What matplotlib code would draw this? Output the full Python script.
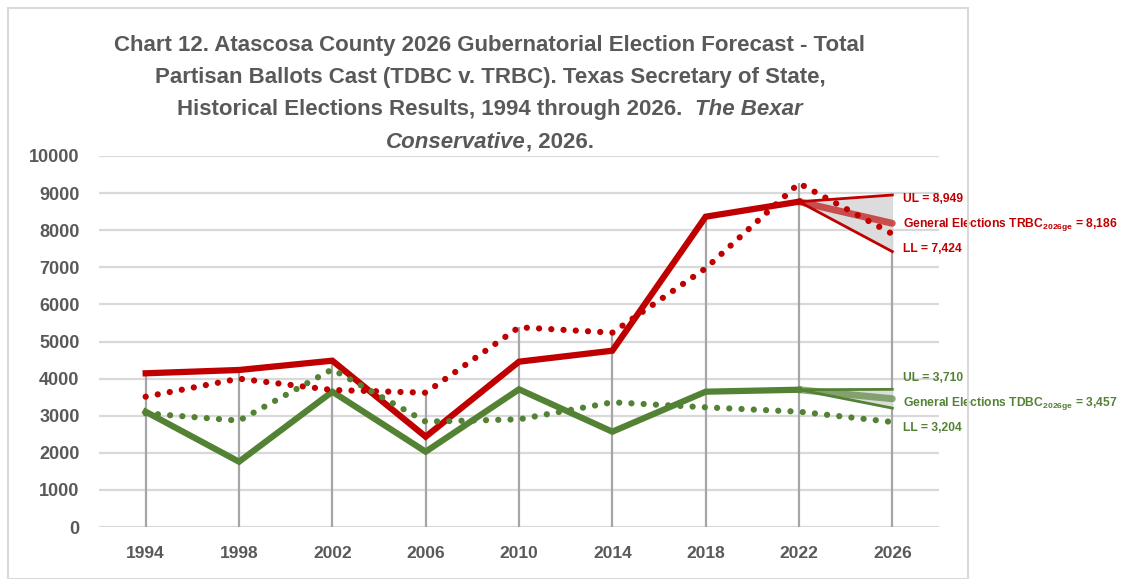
import matplotlib
matplotlib.use("Agg")
from matplotlib import pyplot as plt
from matplotlib.patches import Rectangle
import numpy as np

plt.rcParams['font.family'] = ['Liberation Sans', 'DejaVu Sans']
plt.rcParams['mathtext.fontset'] = 'custom'
plt.rcParams['mathtext.rm'] = 'Liberation Sans'
plt.rcParams['mathtext.bf'] = 'Liberation Sans:bold'

# data
years = ['1994', '1998', '2002', '2006', '2010', '2014', '2018', '2022', '2026']
trbc = [4143, 4232, 4483, 2434, 4456, 4752, 8364, 8768]          # 1994-2022
tdbc = [3108, 1760, 3647, 2030, 3711, 2569, 3647, 3700]          # 1994-2022
trbc_dotted = [3512, 3998, 3693, 3620, 5383, 5238, 6973, 9264, 7900]
tdbc_dotted = [3064, 2866, 4250, 2839, 2902, 3361, 3226, 3108, 2830]
trbc_fc = [8186, 8949, 7424]   # forecast, UL, LL
tdbc_fc = [3457, 3710, 3204]

RED = '#C00000'
GREEN = '#548235'
GRAY_TXT = '#595959'

fig = plt.figure(figsize=(11.24, 5.79), dpi=100)
fig.patches.append(Rectangle((8 / 1124, 0), 960 / 1124, 571 / 579, transform=fig.transFigure,
                             fill=False, edgecolor='#D9D9D9', linewidth=1.5))
ax = fig.add_axes([99 / 1124, 1 - 527 / 579, 840 / 1124, 371 / 579])

x = np.arange(len(years))
ax.set_xlim(-0.5, len(years) - 0.5)
ax.set_ylim(0, 10000)
ax.set_yticks(np.arange(0, 10001, 1000))
ax.set_xticks(x)
ax.set_xticklabels(years)
ax.grid(axis='y', color='#D9D9D9', linewidth=1.6, zorder=0)
ax.set_axisbelow(True)
for s in ax.spines.values():
    s.set_visible(False)
ax.tick_params(length=0, labelcolor=GRAY_TXT)
ax.tick_params(axis='y', labelsize=13, pad=14)
ax.tick_params(axis='x', labelsize=12.5, pad=14)
for lab in ax.get_xticklabels() + ax.get_yticklabels():
    lab.set_fontweight('bold')

# drop lines from the highest point of each category
tops = [max(a, b) for a, b in zip(trbc + [trbc_fc[0]], trbc_dotted)]
ax.vlines(x, 0, tops, color='#A6A6A6', linewidth=1.6, zorder=1)

# forecast wedges
for hist, fc, col in [(trbc, trbc_fc, RED), (tdbc, tdbc_fc, GREEN)]:
    x0, x1 = x[-2], x[-1]
    ax.fill([x0, x1, x1], [hist[-1], fc[1], fc[2]], color='#D9D9D9', alpha=0.9, zorder=2)
    ax.plot([x0, x1], [hist[-1], fc[1]], color=col, linewidth=2, zorder=3)
    ax.plot([x0, x1], [hist[-1], fc[2]], color=col, linewidth=2, zorder=3)
    ax.plot([x0, x1], [hist[-1], fc[0]], color=col, alpha=0.65, linewidth=5,
            solid_capstyle='round', zorder=3)

# historical solid lines
ax.plot(x[:-1], trbc, color=RED, linewidth=4.5, solid_joinstyle='miter', zorder=4)
ax.plot(x[:-1], tdbc, color=GREEN, linewidth=4.5, solid_joinstyle='miter', zorder=4)

# dotted lines
for ys, col in [(trbc_dotted, RED), (tdbc_dotted, GREEN)]:
    ax.plot(x, ys, color=col, linewidth=4.5, linestyle=(0, (0.01, 1.95)),
            dash_capstyle='round', zorder=5)

# forecast labels
lx = x[-1] + 0.11
red_lab_y = [8841, 8167, 7493]
green_lab_y = [4016, 3342, 2668]
for fc, ly, col, name in [(trbc_fc, red_lab_y, RED, 'TRBC'), (tdbc_fc, green_lab_y, GREEN, 'TDBC')]:
    ax.text(lx, ly[0], 'UL = {:,}'.format(fc[1]), color=col, fontsize=8.7, fontweight='bold',
            va='center', ha='left', clip_on=False)
    ax.text(lx, ly[1], 'General Elections ' + name + r'$_{\mathbf{2026ge}}$' + ' = {:,}'.format(fc[0]),
            color=col, fontsize=8.7, fontweight='bold', va='center', ha='left', clip_on=False)
    ax.text(lx, ly[2], 'LL = {:,}'.format(fc[2]), color=col, fontsize=8.7, fontweight='bold',
            va='center', ha='left', clip_on=False)

# title with mixed italic pieces
title_lines = [
    [('Chart 12. Atascosa County 2026 Gubernatorial Election Forecast - Total', 'normal')],
    [('Partisan Ballots Cast (TDBC v. TRBC). Texas Secretary of State,', 'normal')],
    [('Historical Elections Results, 1994 through 2026.  ', 'normal'), ('The Bexar', 'italic')],
    [('Conservative', 'italic'), (', 2026.', 'normal')],
]
title_y = [45, 78, 110, 142]
cx = 490
fig.canvas.draw()
renderer = fig.canvas.get_renderer()
for parts, py in zip(title_lines, title_y):
    objs = [fig.text(0, 1 - py / 579, t, fontsize=16, fontweight='bold', style=st,
                     color=GRAY_TXT, va='center', ha='left') for t, st in parts]
    widths = [o.get_window_extent(renderer).width for o in objs]
    start = cx - sum(widths) / 2
    for o, w in zip(objs, widths):
        o.set_x(start / 1124)
        start += w

fig.savefig('out.png', dpi=100)
